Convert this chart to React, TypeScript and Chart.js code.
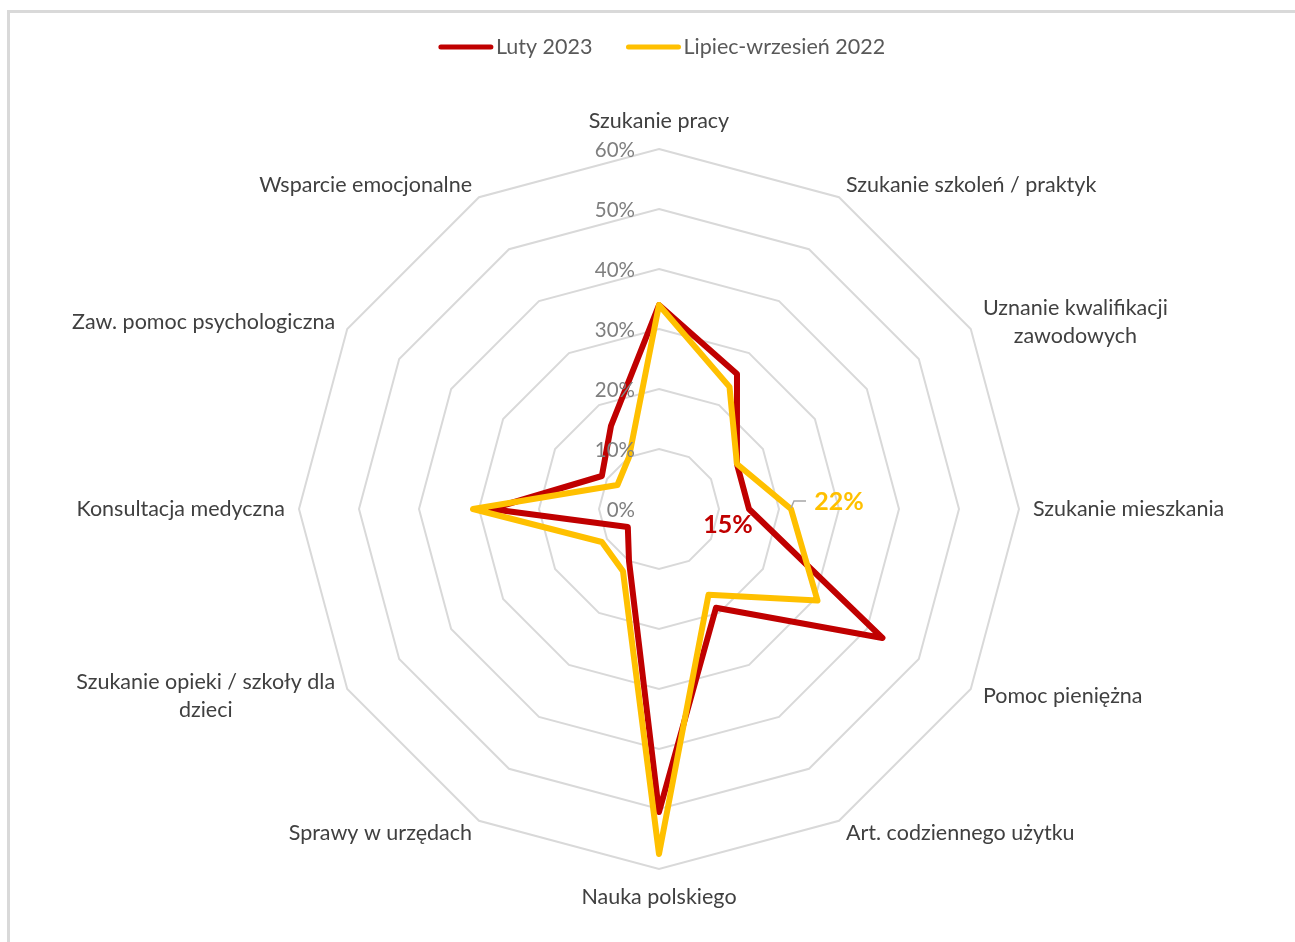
import React, { useEffect, useRef } from "react";
import { Chart, registerables } from "chart.js";

Chart.register(...registerables);

const categories: (string | string[])[] = [
  "Szukanie pracy",
  "Szukanie szkoleń / praktyk",
  ["Uznanie kwalifikacji", "zawodowych"],
  "Szukanie mieszkania",
  "Pomoc pieniężna",
  "Art. codziennego użytku",
  "Nauka polskiego",
  "Sprawy w urzędach",
  ["Szukanie opieki / szkoły dla", "dzieci"],
  "Konsultacja medyczna",
  "Zaw. pomoc psychologiczna",
  "Wsparcie emocjonalne",
];

const seriesNames = ["Luty 2023", "Lipiec-wrzesień 2022"];
const luty2023 = [34, 26, 15, 15, 43, 19, 50.5, 10, 6, 28, 11, 16];
const lipiecWrzesien2022 = [34, 23.5, 15, 22, 30.5, 16.5, 57.5, 12, 11, 31, 8, 10];
const seriesColors = ["#C00000", "#FFC000"];

const tickValues = [0, 10, 20, 30, 40, 50, 60];
const tickLabels = ["0%", "10%", "20%", "30%", "40%", "50%", "60%"];

// index of the category that carries data labels
const labelledIndex = 3;

const FONT = "Lato, 'Noto Sans', sans-serif";

const overlayPlugin = {
  id: "overlay",
  afterDatasetsDraw(chart: any) {
    const ctx = chart.ctx as CanvasRenderingContext2D;
    const s = chart.scales.r;
    const R = s.drawingArea;
    const n = categories.length;
    ctx.save();

    // tick labels
    ctx.font = `20.5px ${FONT}`;
    ctx.fillStyle = "#7f7f7f";
    ctx.textAlign = "right";
    ctx.textBaseline = "middle";
    tickValues.forEach((v, i) => {
      const d = s.getDistanceFromCenterForValue(v);
      ctx.fillText(tickLabels[i], s.xCenter - 24, s.yCenter - d + 1);
    });

    // category labels
    ctx.font = `21.5px ${FONT}`;
    ctx.fillStyle = "#404040";
    const lh = 28;
    categories.forEach((lab, i) => {
      const lines = Array.isArray(lab) ? lab : [lab];
      const p = s.getPointPosition(i, R + 14);
      const a = (i * 2 * Math.PI) / n;
      const sin = Math.sin(a);
      const cos = Math.cos(a);
      const blockW = Math.max(...lines.map((l) => ctx.measureText(l).width));
      const blockH = lines.length * lh;
      let left: number;
      if (sin > 0.01) left = p.x;
      else if (sin < -0.01) left = p.x - blockW;
      else left = p.x - blockW / 2;
      let top: number;
      if (cos > 0.99) top = p.y - blockH;
      else if (cos < -0.99) top = p.y;
      else top = p.y - blockH / 2;
      ctx.textAlign = "center";
      ctx.textBaseline = "middle";
      lines.forEach((ln, k) => {
        ctx.fillText(ln, left + blockW / 2, top + lh * (k + 0.5));
      });
    });

    // data labels
    const redV = luty2023[labelledIndex];
    const yelV = lipiecWrzesien2022[labelledIndex];
    const rp = s.getPointPosition(labelledIndex, s.getDistanceFromCenterForValue(redV));
    const yp = s.getPointPosition(labelledIndex, s.getDistanceFromCenterForValue(yelV));
    ctx.font = `bold 25px ${FONT}`;
    ctx.textAlign = "center";
    ctx.textBaseline = "middle";
    ctx.fillStyle = seriesColors[0];
    ctx.fillText(`${Math.round(redV)}%`, rp.x - 21, rp.y + 16);
    ctx.fillStyle = seriesColors[1];
    ctx.fillText(`${Math.round(yelV)}%`, yp.x + 48, yp.y - 7);
    // leader line
    ctx.strokeStyle = "#a6a6a6";
    ctx.lineWidth = 1.5;
    ctx.beginPath();
    ctx.moveTo(yp.x, yp.y - 1);
    ctx.lineTo(yp.x + 3, yp.y - 8);
    ctx.lineTo(yp.x + 15, yp.y - 8);
    ctx.stroke();

    // legend
    ctx.font = `21.5px ${FONT}`;
    ctx.textAlign = "left";
    ctx.textBaseline = "middle";
    const lineLen = 54;
    const gap = 3;
    const spacing = 34;
    const w0 = ctx.measureText(seriesNames[0]).width;
    const w1 = ctx.measureText(seriesNames[1]).width;
    const total = lineLen + gap + w0 + spacing + lineLen + gap + w1;
    let x = 662 - total / 2;
    const ly = 47;
    ctx.lineCap = "round";
    ctx.lineWidth = 5;
    [0, 1].forEach((k) => {
      ctx.strokeStyle = seriesColors[k];
      ctx.beginPath();
      ctx.moveTo(x + 2, ly);
      ctx.lineTo(x + lineLen - 2, ly);
      ctx.stroke();
      x += lineLen + gap;
      ctx.fillStyle = "#595959";
      ctx.fillText(seriesNames[k], x, ly);
      x += (k === 0 ? w0 : w1) + spacing;
    });

    ctx.restore();
  },
};

export default function App() {
  const ref = useRef<HTMLCanvasElement | null>(null);

  useEffect(() => {
    if (!ref.current) return;
    const chart = new Chart(ref.current, {
      type: "radar",
      data: {
        labels: categories.map((c) => (Array.isArray(c) ? c.join(" ") : c)),
        datasets: [
          {
            label: seriesNames[0],
            data: luty2023,
            borderColor: seriesColors[0],
            backgroundColor: "transparent",
            borderWidth: 6,
            pointRadius: 0,
            pointHoverRadius: 0,
            fill: false,
            borderJoinStyle: "round",
            order: 1,
          },
          {
            label: seriesNames[1],
            data: lipiecWrzesien2022,
            borderColor: seriesColors[1],
            backgroundColor: "transparent",
            borderWidth: 6,
            pointRadius: 0,
            pointHoverRadius: 0,
            fill: false,
            borderJoinStyle: "round",
            order: 0,
          },
        ],
      },
      options: {
        responsive: false,
        animation: false,
        layout: { padding: { left: 209, right: 186, top: 149, bottom: 73 } },
        plugins: {
          legend: { display: false },
          tooltip: { enabled: false },
        },
        scales: {
          r: {
            min: 0,
            max: 60,
            ticks: { display: false, stepSize: 10 },
            grid: { color: "#d9d9d9", lineWidth: 2, circular: false },
            angleLines: { display: false },
            pointLabels: { display: false },
          },
        },
      },
      plugins: [overlayPlugin],
    });
    return () => chart.destroy();
  }, []);

  return (
    <div style={{ position: "absolute", left: 0, top: 0, width: 1295, height: 942, overflow: "hidden", background: "#fff" }}>
      <div
        style={{
          position: "absolute",
          left: 7,
          top: 10,
          width: 1300,
          height: 940,
          borderTop: "3px solid #d9d9d9",
          borderLeft: "3px solid #d9d9d9",
        }}
      />
      <canvas ref={ref} width={1295} height={942} style={{ position: "absolute", left: 0, top: 0 }} />
    </div>
  );
}
